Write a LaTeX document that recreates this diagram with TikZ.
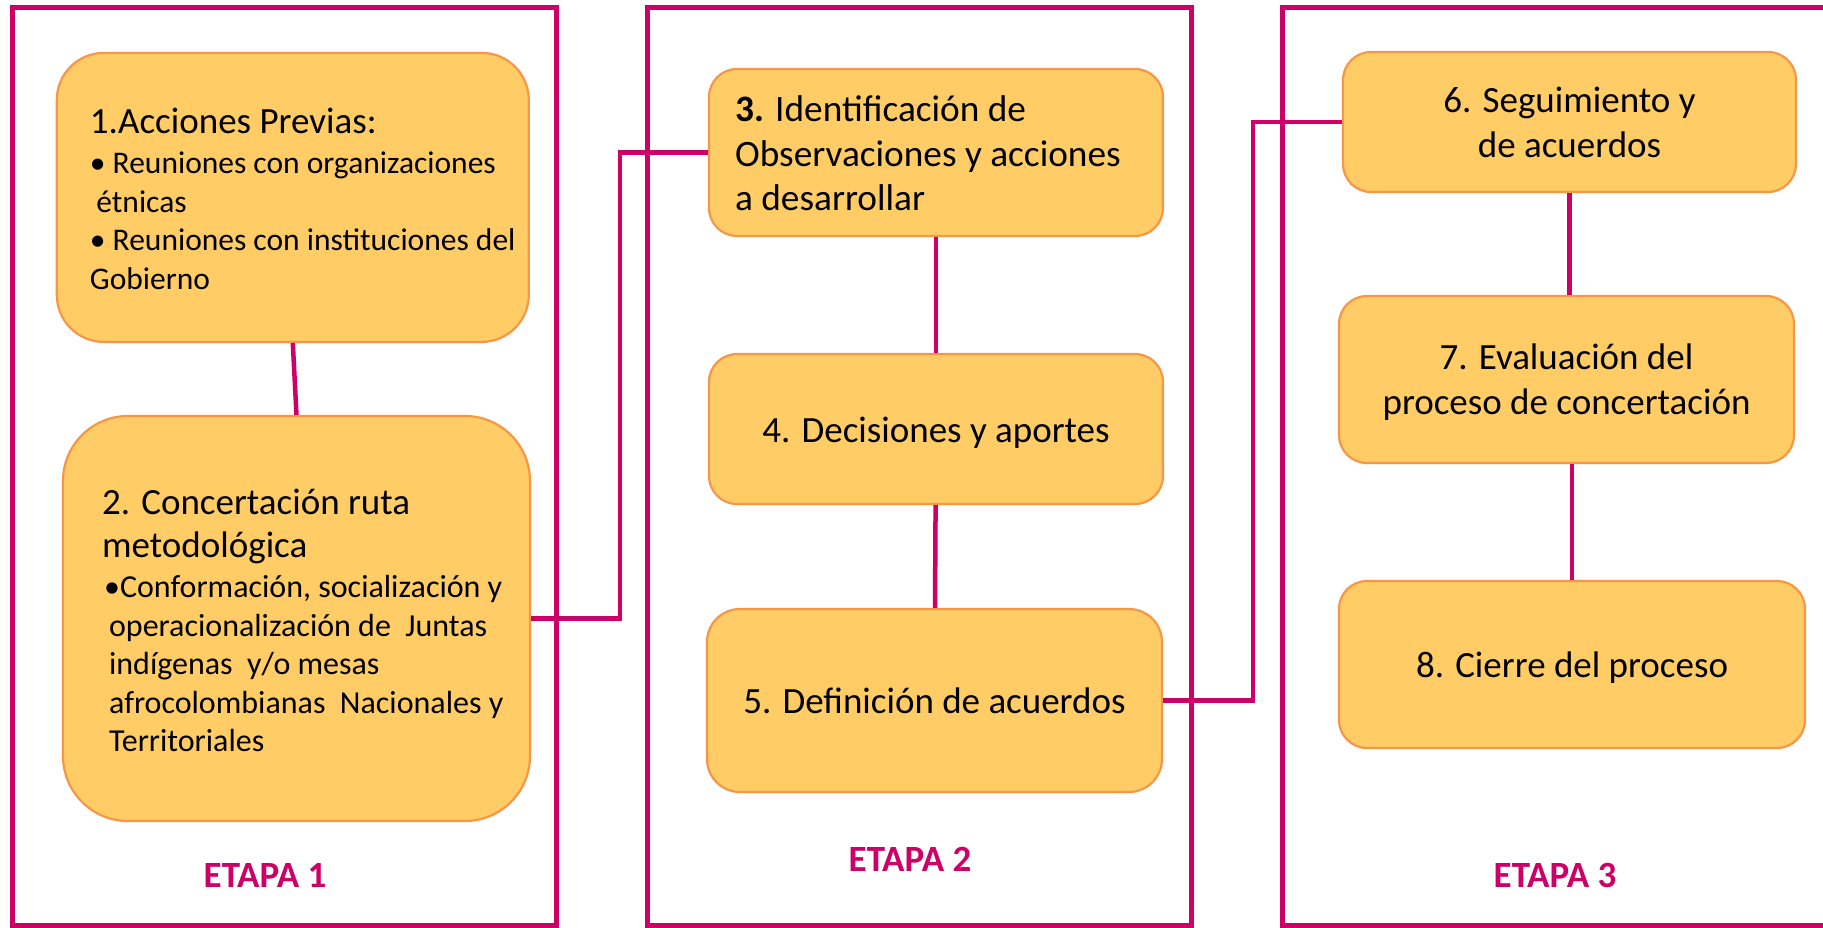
\documentclass[tikz,border=0pt]{standalone}
\usepackage{fontspec}
\setmainfont{Carlito}
\usepackage{xcolor}
\usetikzlibrary{positioning}
\definecolor{etapa}{RGB}{204,0,102}
\definecolor{stepfill}{RGB}{255,204,102}
\definecolor{stepline}{RGB}{247,150,70}

\begin{document}
\begin{tikzpicture}[
        x=1pt, y=-1pt,
        stage/.style={draw=etapa, line width=5pt},
        stepbox/.style={draw=stepline, fill=stepfill, line width=2.2pt, rounded corners=28pt, inner sep=0pt},
        steptext/.style={align=left, inner sep=0pt, font=\fontsize{31.5}{38.5}\selectfont},
        bigtext/.style={align=center, inner sep=0pt, font=\fontsize{37}{45}\selectfont},
        link/.style={draw=etapa, line width=4.5pt},
        stagelabel/.style={text=etapa, font=\fontsize{37}{44}\selectfont\bfseries, anchor=base}
    ]
        \useasboundingbox (0,0) rectangle (1823,928);

        % Stage frames
        \draw[stage] (12,8) rectangle (556,925);
        \draw[stage] (647,8) rectangle (1191,925);
        \draw[stage] (1282,8) rectangle (1850,925);

        % Stage 1
        \node[stepbox, minimum width=472pt, minimum height=289pt, rounded corners=47pt] (acciones) at (292.8,197.4) {};
        \node[steptext, right=34pt of acciones.west, yshift=-1.6pt] (accionestxt) {{\fontsize{37}{45}\selectfont 1.Acciones Previas:}\\[1.5pt]
            •~Reuniones con organizaciones\\
            \hspace*{6.5pt}étnicas\\
            •~Reuniones con instituciones del\\
            Gobierno};

        \node[stepbox, minimum width=467pt, minimum height=405pt, rounded corners=65pt] (concertacion) at (296.5,618.5) {};
        \node[steptext, font=\fontsize{32}{38.5}\selectfont, right=40pt of concertacion.west, yshift=-2.3pt] (concertaciontxt) {{\fontsize{37}{45}\selectfont 2. Concertación ruta}\\[3.7pt]
            {\fontsize{37}{45}\selectfont metodológica}\\[2.2pt]
            \hspace*{2pt}•Conformación, socialización y\\
            \hspace*{7pt}operacionalización de\ \ Juntas\\
            \hspace*{7pt}indígenas\ \ y/o mesas\\
            \hspace*{7pt}afrocolombianas\ \ Nacionales y\\
            \hspace*{7pt}Territoriales};

        % Stage 2
        \node[stepbox, minimum width=454pt, minimum height=167pt] (identificacion) at (936,152.5) {};
        \node[steptext, font=\fontsize{37.3}{44.5}\selectfont, right=27pt of identificacion.west, yshift=-0.8pt] (identificaciontxt) {\textbf{3.} Identificación de\\
            Observaciones y acciones\\
            a desarrollar};
        \node[stepbox, bigtext, text height=33pt, text depth=7pt, minimum width=454pt, minimum height=150pt] (decisiones) at (936,429) {4. Decisiones y aportes};
        \node[stepbox, bigtext, minimum width=455pt, minimum height=183pt, rounded corners=33pt] (definicion) at (934.5,700.5) {5. Definición de acuerdos};

        % Stage 3
        \node[stepbox, bigtext, minimum width=453pt, minimum height=140pt] (seguimiento) at (1569.5,122) {6. Seguimiento y\\de acuerdos};
        \node[stepbox, bigtext, text height=76pt, text depth=7pt, minimum width=455pt, minimum height=167pt] (evaluacion) at (1566.5,379.5) {7. Evaluación del\\proceso de concertación};
        \node[stepbox, bigtext, text height=32pt, text depth=7pt, minimum width=466pt, minimum height=167pt] (cierre) at (1572,664.5) {8. Cierre del proceso};

        % Links
        \draw[link] (acciones.south) -- (concertacion.north);
        \draw[link] (concertacion.east) -- ++(89,0) |- (identificacion.west);
        \draw[link] (identificacion) -- (decisiones);
        \draw[link] (decisiones) -- (definicion);
        \draw[link] (definicion.east) -- ++(90,0) |- (seguimiento.west);
        \draw[link] (seguimiento.south) -- (seguimiento.south |- evaluacion.north);
        \draw[link] (evaluacion.south -| cierre.north) -- (cierre.north);

        % Stage labels
        \node[stagelabel] (etapa1) at (265,887) {ETAPA 1};
        \node[stagelabel] (etapa2) at (910,871) {ETAPA 2};
        \node[stagelabel] (etapa3) at (1555,887) {ETAPA 3};

    \end{tikzpicture}
\end{document}
